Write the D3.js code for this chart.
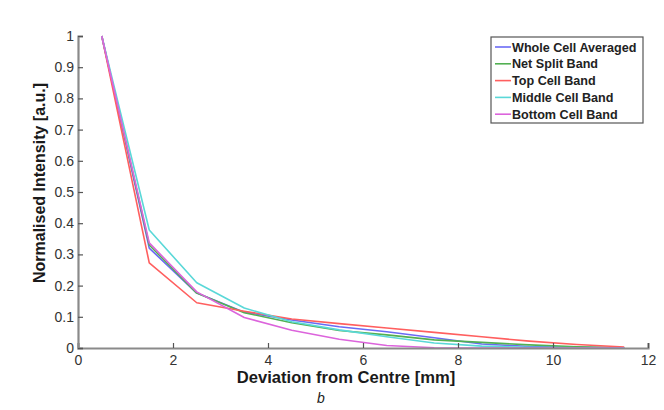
<!DOCTYPE html>
<html>
<head>
<meta charset="utf-8">
<script src="https://cdn.jsdelivr.net/npm/d3@7"></script>
<style>
  html, body { margin: 0; padding: 0; background: #fff; }
  svg { display: block; }
</style>
</head>
<body>
<svg id="chart" width="664" height="410"></svg>
<script>
// Deviation from centre [mm] at which each band was sampled
const deviation = [0.5, 1.5, 2.5, 3.5, 4.5, 5.5, 6.5, 7.5, 8.5, 9.5, 10.5, 11.5];

// Normalised intensity per band
const wholeCellAveraged = [1, 0.32, 0.176, 0.115, 0.090, 0.068, 0.052, 0.033, 0.013, 0.005, 0.002, 0.001];
const netSplitBand      = [1, 0.33, 0.176, 0.113, 0.081, 0.056, 0.042, 0.026, 0.018, 0.010, 0.004, 0.001];
const topCellBand       = [1, 0.273, 0.145, 0.118, 0.093, 0.078, 0.064, 0.050, 0.036, 0.022, 0.011, 0.003];
const middleCellBand    = [1, 0.378, 0.209, 0.128, 0.084, 0.058, 0.036, 0.016, 0.006, 0.002, 0.001, 0.001];
const bottomCellBand    = [1, 0.337, 0.180, 0.098, 0.057, 0.028, 0.008, 0.001, 0, 0, 0, 0];

const seriesNames  = ["Whole Cell Averaged", "Net Split Band", "Top Cell Band", "Middle Cell Band", "Bottom Cell Band"];
const seriesValues = [wholeCellAveraged, netSplitBand, topCellBand, middleCellBand, bottomCellBand];
const seriesColors = ["#6a6af5", "#52b052", "#ff5f5f", "#5ad8d8", "#dc64dc"];

const xTicks = [0, 2, 4, 6, 8, 10, 12];
const yTicks = [0, 0.1, 0.2, 0.3, 0.4, 0.5, 0.6, 0.7, 0.8, 0.9, 1];

const svg = d3.select("#chart");
const plot = { left: 78, right: 648, top: 36, bottom: 348 };

const x = d3.scaleLinear().domain([0, 12]).range([plot.left, plot.right]);
const y = d3.scaleLinear().domain([0, 1]).range([plot.bottom, plot.top]);

const axisColor = "#8a8a8a";
const textColor = "#333";

// Lines
const line = d3.line().x(d => x(d[0])).y(d => y(d[1]));
seriesValues.forEach((vals, i) => {
  svg.append("path")
    .datum(deviation.map((dx, j) => [dx, vals[j]]))
    .attr("d", line)
    .attr("fill", "none")
    .attr("stroke", seriesColors[i])
    .attr("stroke-width", 1.6)
    .attr("stroke-linejoin", "round");
});

// X axis with inward ticks
const xAxis = svg.append("g")
  .attr("transform", `translate(0,${plot.bottom})`)
  .call(d3.axisBottom(x).tickValues(xTicks).tickSize(-5).tickPadding(7).tickFormat(d3.format("d")));
xAxis.select(".domain").attr("stroke", axisColor).attr("stroke-width", 2.2);
xAxis.selectAll(".tick line").attr("stroke", "#555").attr("stroke-width", 1.2);
xAxis.selectAll(".tick text")
  .attr("fill", textColor)
  .style("font-family", "Arial, 'Liberation Sans', sans-serif")
  .style("font-size", "14px");

// Y axis with inward ticks
const yAxis = svg.append("g")
  .attr("transform", `translate(${plot.left},0)`)
  .call(d3.axisLeft(y).tickValues(yTicks).tickSize(-5).tickPadding(4).tickFormat(d => d3.format("~g")(d)));
yAxis.select(".domain").attr("stroke", axisColor).attr("stroke-width", 2.2);
yAxis.selectAll(".tick line").attr("stroke", "#555").attr("stroke-width", 1.2);
yAxis.selectAll(".tick text")
  .attr("fill", textColor)
  .style("font-family", "Arial, 'Liberation Sans', sans-serif")
  .style("font-size", "14px");

// Axis titles
svg.append("text")
  .attr("x", 346)
  .attr("y", 383)
  .attr("text-anchor", "middle")
  .attr("fill", "#1a1a1a")
  .style("font-family", "Arial, 'Liberation Sans', sans-serif")
  .style("font-size", "16.6px")
  .style("font-weight", "bold")
  .text("Deviation from Centre [mm]");

svg.append("text")
  .attr("transform", "translate(45,183) rotate(-90)")
  .attr("text-anchor", "middle")
  .attr("fill", "#1a1a1a")
  .style("font-family", "Arial, 'Liberation Sans', sans-serif")
  .style("font-size", "16px")
  .style("font-weight", "bold")
  .text("Normalised Intensity [a.u.]");

// Figure panel letter
svg.append("text")
  .attr("x", 321)
  .attr("y", 403)
  .attr("text-anchor", "middle")
  .attr("fill", "#222")
  .style("font-family", "Arial, 'Liberation Sans', sans-serif")
  .style("font-size", "14px")
  .style("font-style", "italic")
  .text("b");

// Legend
const legend = svg.append("g").attr("transform", "translate(491,37)");
legend.append("rect")
  .attr("width", 152).attr("height", 86)
  .attr("fill", "#fff")
  .attr("stroke", "#555").attr("stroke-width", 1.2);
seriesNames.forEach((name, i) => {
  const row = legend.append("g").attr("transform", `translate(0,${10 + i * 16.8})`);
  row.append("line")
    .attr("x1", 4).attr("x2", 20).attr("y1", 0).attr("y2", 0)
    .attr("stroke", seriesColors[i]).attr("stroke-width", 1.6);
  row.append("text")
    .attr("x", 21).attr("y", 4.5)
    .attr("fill", "#222")
    .style("font-family", "Arial, 'Liberation Sans', sans-serif")
    .style("font-size", "12.6px")
    .style("font-weight", "bold")
    .text(name);
});
</script>
</body>
</html>
